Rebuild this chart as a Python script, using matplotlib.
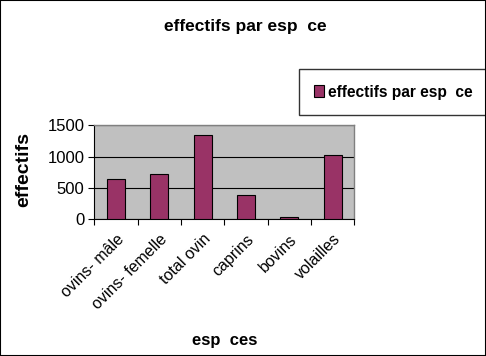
import matplotlib
matplotlib.use("Agg")
import matplotlib.pyplot as plt
from matplotlib.patches import Rectangle

plt.rcParams['font.family'] = ['Liberation Sans', 'DejaVu Sans']

categories = ["ovins- mâle", "ovins- femelle", "total ovin", "caprins", "bovins", "volailles"]
values = [633, 713, 1351, 378, 27, 1032]
yticks = [0, 500, 1000, 1500]

fig = plt.figure(figsize=(4.86, 3.56), dpi=100)
fig.patch.set_facecolor('white')
fig.patches.append(Rectangle((0, 0), 1, 1, transform=fig.transFigure, fill=False,
                             edgecolor='black', linewidth=1.5, zorder=10))

ax = fig.add_axes([94.3/486, 1-219/356, (354.3-94.3)/486, (219-125.3)/356])
ax.set_facecolor('#C0C0C0')
x = list(range(len(categories)))
ax.bar(x, values, width=0.42, color='#993366', edgecolor='black', linewidth=0.8,
       zorder=3, label='effectifs par esp  ce')
ax.set_xlim(-0.5, len(categories) - 0.5)
ax.set_ylim(0, 1500)
ax.set_yticks(yticks)
ax.set_yticklabels([str(t) for t in yticks], fontsize=12)
ax.yaxis.grid(True, color='black', linewidth=0.8, zorder=1)
ax.set_axisbelow(True)

ax.set_xticks([i + 0.5 for i in range(-1, len(categories))], minor=False)
ax.set_xticklabels([''] * (len(categories) + 1))
ax.set_xticks(x, minor=True)
ax.set_xticklabels(categories, minor=True, rotation=45, ha='right', va='top',
                   rotation_mode='anchor', fontsize=11.5)
ax.tick_params(axis='x', which='minor', length=0, pad=9)
ax.tick_params(axis='x', which='major', direction='out', length=4, color='black')
ax.tick_params(axis='y', direction='out', length=4, color='black', pad=3)

for s in ['top', 'right']:
    ax.spines[s].set_color('#808080')
    ax.spines[s].set_linewidth(1)
ax.spines['left'].set_color('black')
ax.spines['bottom'].set_color('black')

fig.text(245/486, 1-27/356, 'effectifs par esp  ce', ha='center', va='center',
         fontsize=12.5, fontweight='bold')
fig.text(24/486, 1-170/356, 'effectifs', ha='center', va='center', rotation=90,
         fontsize=14, fontweight='bold')
fig.text(225/486, 1-340/356, 'esp  ces', ha='center', va='center',
         fontsize=12, fontweight='bold')

leg = fig.legend(loc='center', bbox_to_anchor=(393.5/486, 1-92/356), frameon=True,
                 fancybox=False, edgecolor='black',
                 prop={'weight': 'bold', 'size': 11.2}, handlelength=0.6, handleheight=0.8,
                 handletextpad=0.3, borderpad=1.0, borderaxespad=0)
leg.get_frame().set_linewidth(1)

fig.savefig('out.png', dpi=100)
